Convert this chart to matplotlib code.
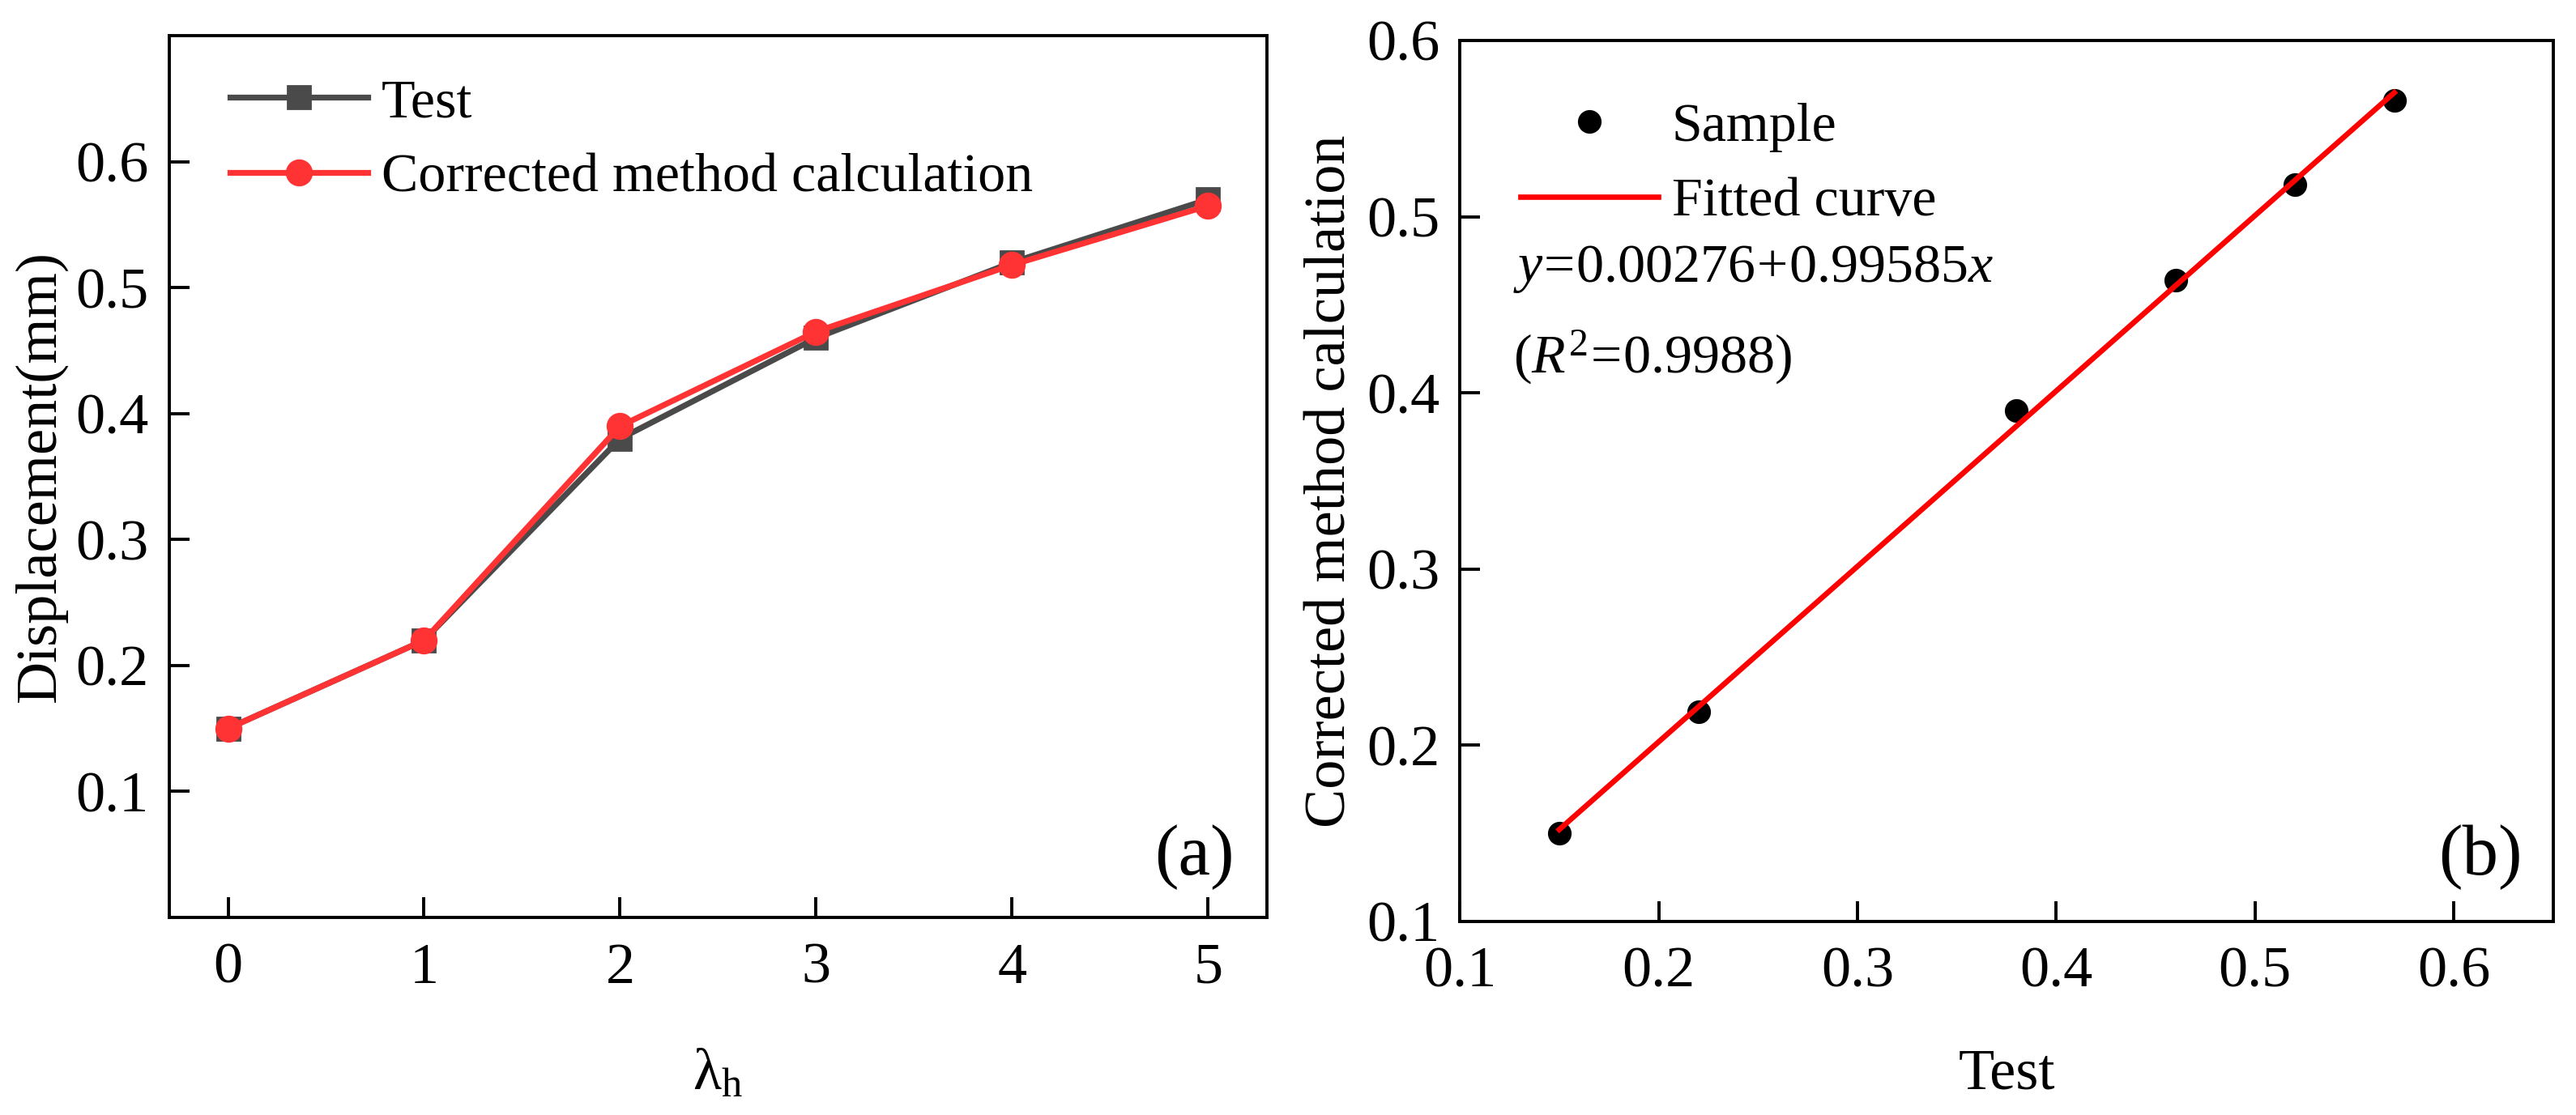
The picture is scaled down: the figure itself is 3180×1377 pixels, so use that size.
import numpy as np
import matplotlib
matplotlib.use('Agg')
from matplotlib import pyplot as plt

plt.rcParams['font.family'] = ['Liberation Serif', 'DejaVu Serif']
plt.rcParams['mathtext.fontset'] = 'custom'
plt.rcParams['mathtext.rm'] = 'Liberation Serif'
plt.rcParams['mathtext.it'] = 'Liberation Serif:italic'
plt.rcParams['font.size'] = 26

# data
lambda_h = [0, 1, 2, 3, 4, 5]
test_disp = [0.15, 0.22, 0.38, 0.46, 0.52, 0.57]
corrected_disp = [0.15, 0.22, 0.39, 0.465, 0.518, 0.565]

sample_test = [0.15, 0.22, 0.38, 0.46, 0.52, 0.57]
sample_corrected = [0.15, 0.219, 0.39, 0.464, 0.518, 0.566]
fit_a, fit_b = 0.00276, 0.99585

fig = plt.figure(figsize=(15.9, 6.885), dpi=200)
ax1 = fig.add_axes([0.0657, 0.1772, 0.4261, 0.7908])
ax2 = fig.add_axes([0.5667, 0.1736, 0.4245, 0.7901])

for ax in (ax1, ax2):
    for sp in ax.spines.values():
        sp.set_linewidth(1.4)
    ax.tick_params(direction='in', length=9, width=1.4, labelsize=26)
    ax.tick_params(axis='x', pad=11)
    ax.tick_params(axis='y', pad=9)

leg_fs = 24.5

# (a)
ax1.plot(lambda_h, test_disp, color='#4a4a4a', lw=2.6, marker='s', ms=10, label='Test')
ax1.plot(lambda_h, corrected_disp, color='#ff3333', lw=2.6, marker='o', ms=11,
         label='Corrected method calculation')
ax1.set_xlim(-0.3, 5.3)
ax1.set_ylim(0.0, 0.7)
ax1.set_xticks(range(6))
ax1.set_yticks([0.1, 0.2, 0.3, 0.4, 0.5, 0.6])
ax1.set_yticklabels(['0.1', '0.2', '0.3', '0.4', '0.5', '0.6'])
ax1.set_xlabel('λ$_{\\mathrm{h}}$', labelpad=24)
ax1.set_ylabel('Displacement(mm)', labelpad=4)
ax1.legend(loc='upper left', bbox_to_anchor=(0.03, 0.983), frameon=False,
           handlelength=2.5, handletextpad=0.25, labelspacing=0.45, borderpad=0,
           fontsize=leg_fs)
ax1.text(0.934, 0.068, '(a)', transform=ax1.transAxes, ha='center', va='center', fontsize=32)

# (b)
ax2.plot(sample_test, sample_corrected, 'o', color='black', ms=9.5, label='Sample')
xf = np.array([min(sample_test), max(sample_test)])
ax2.plot(xf, fit_a + fit_b * xf, color='red', lw=2.4, label='Fitted curve')
ax2.set_xlim(0.1, 0.65)
ax2.set_ylim(0.1, 0.6)
ax2.set_xticks([0.1, 0.2, 0.3, 0.4, 0.5, 0.6])
ax2.set_xticklabels(['0.1', '0.2', '0.3', '0.4', '0.5', '0.6'])
ax2.set_yticks([0.1, 0.2, 0.3, 0.4, 0.5, 0.6])
ax2.set_yticklabels(['0.1', '0.2', '0.3', '0.4', '0.5', '0.6'])
ax2.set_xlabel('Test', labelpad=22)
ax2.set_ylabel('Corrected method calculation', labelpad=4)
ax2.legend(loc='upper left', bbox_to_anchor=(0.03, 0.961), frameon=False,
           handlelength=2.5, handletextpad=0.25, labelspacing=0.45, borderpad=0,
           fontsize=leg_fs)
ax2.text(0.049, 0.74, r'$y\!=\!0.00276\!+\!0.99585x$', transform=ax2.transAxes,
         ha='left', va='center', fontsize=leg_fs)
ax2.text(0.049, 0.64, r'$(R^2\!=\!0.9988)$', transform=ax2.transAxes,
         ha='left', va='center', fontsize=leg_fs)
ax2.text(0.933, 0.073, '(b)', transform=ax2.transAxes, ha='center', va='center', fontsize=32)

fig.savefig('out.png', dpi=200)
